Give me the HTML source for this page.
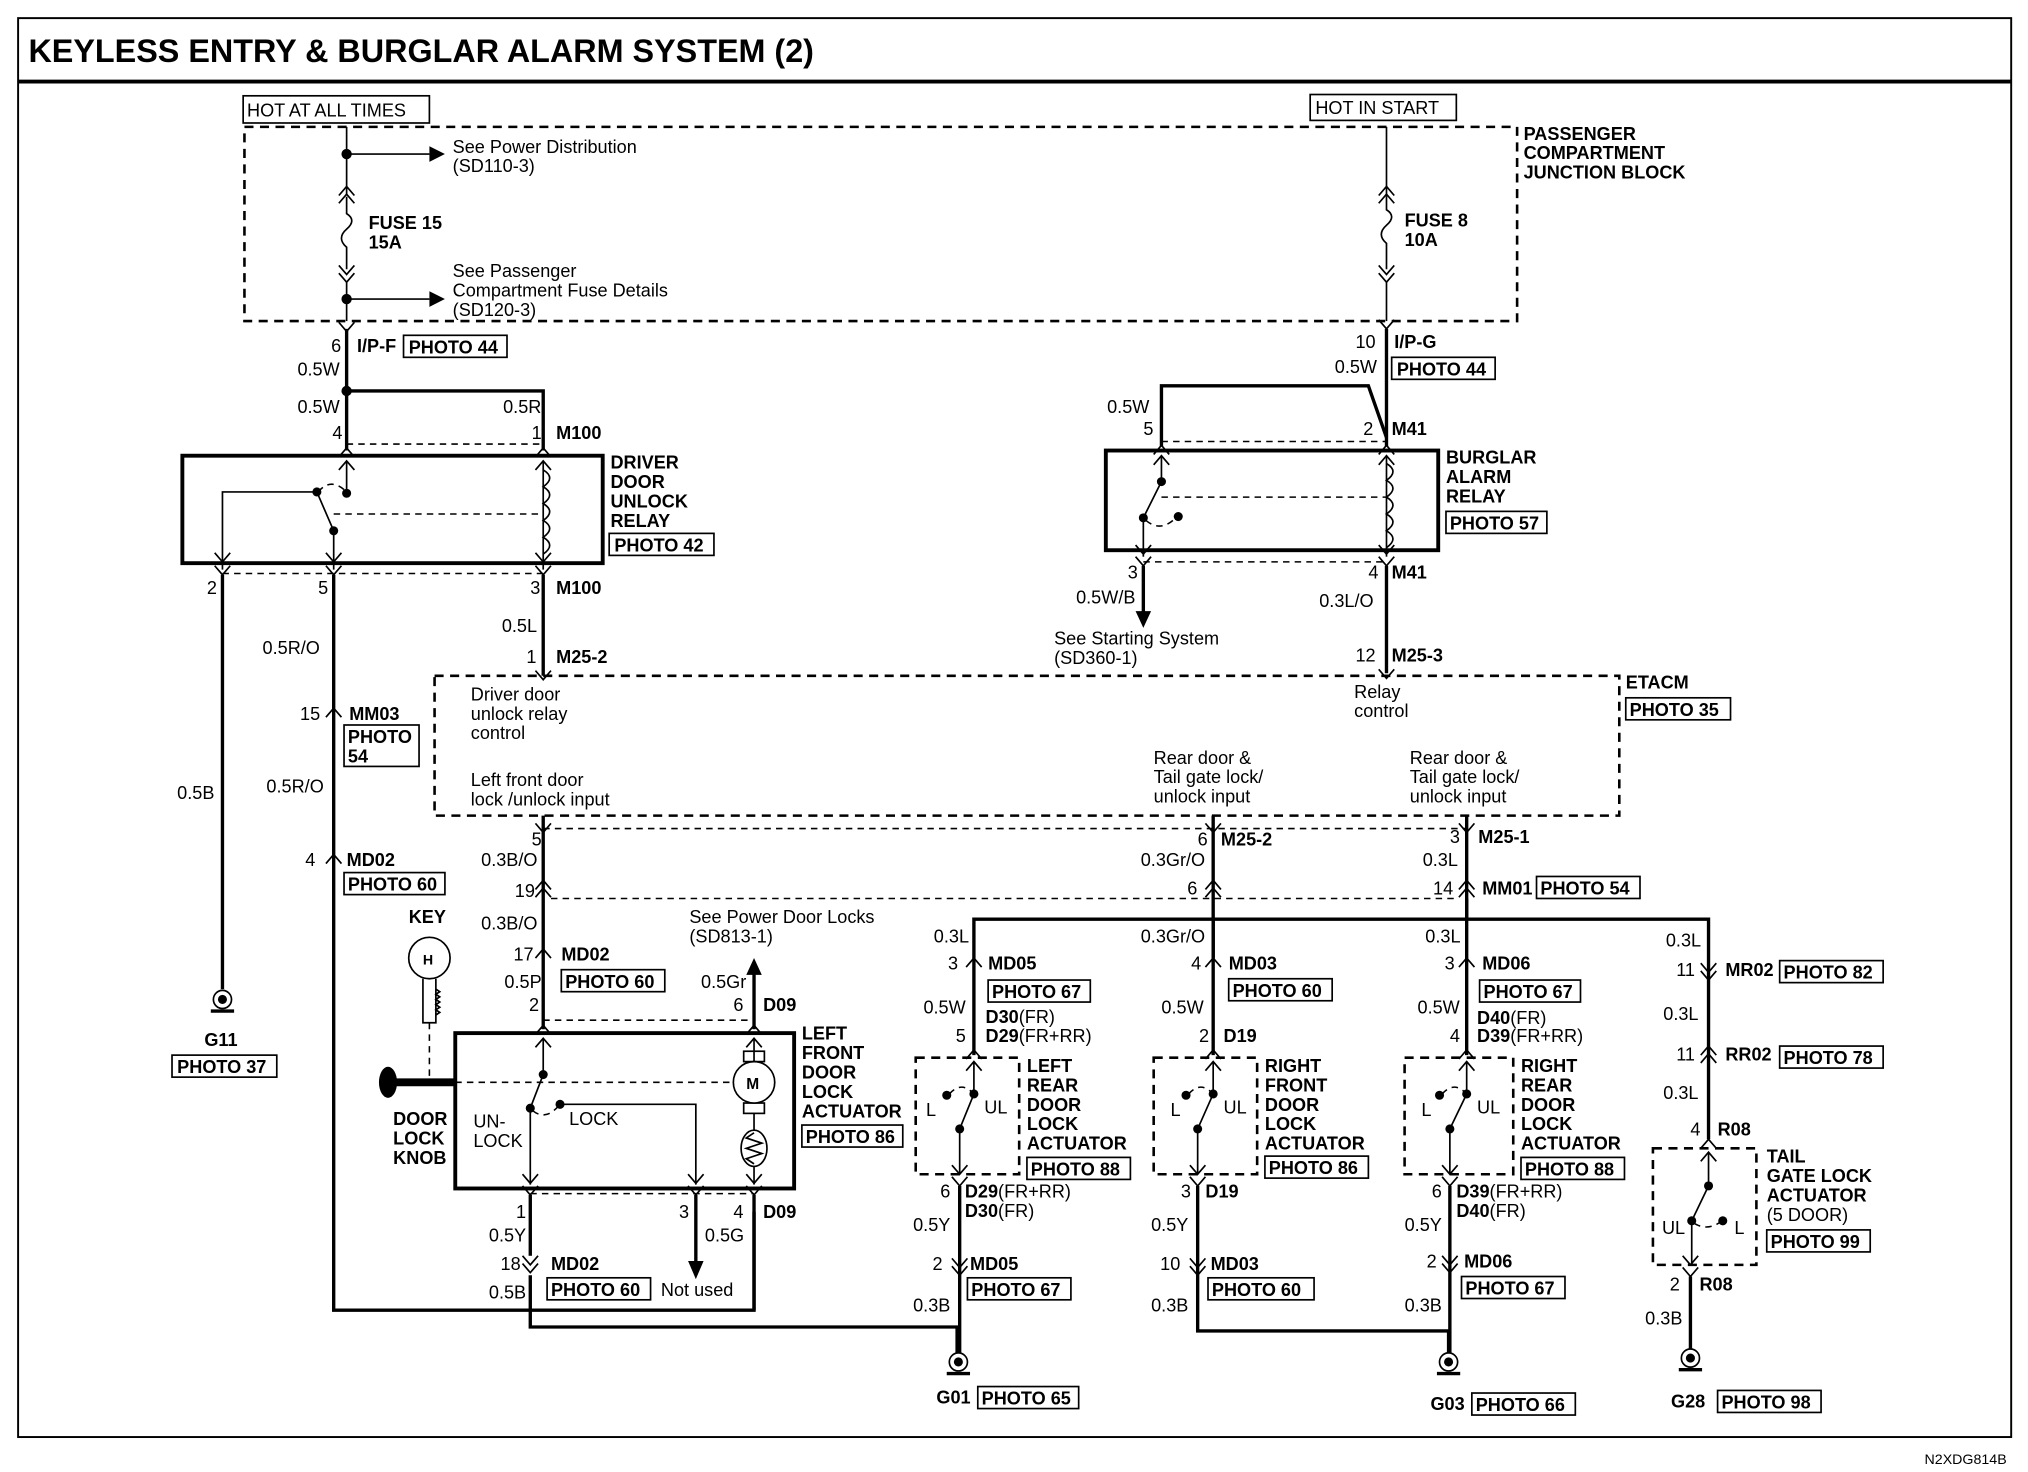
<!DOCTYPE html>
<html><head><meta charset="utf-8"><style>
html,body{margin:0;padding:0;background:#fff}
svg{display:block}
text{font-family:"Liberation Sans",Arial,sans-serif;font-size:14px;fill:#000}
.b{font-weight:bold}
.w{stroke:#000;stroke-width:2.6;fill:none}
.t{stroke:#000;stroke-width:1.3;fill:none}
.d{stroke:#000;stroke-width:2;fill:none;stroke-dasharray:7,5}
.dt{stroke:#000;stroke-width:1.2;fill:none;stroke-dasharray:5,4}
.bx{stroke:#000;stroke-width:1.3;fill:#fff}
.rb{stroke:#000;stroke-width:3;fill:none}
</style></head><body>
<svg width="2028" height="1472" viewBox="0 0 1568 1137" preserveAspectRatio="none" xmlns="http://www.w3.org/2000/svg">
<defs>
<g id="cu"><polyline points="-6,7 0,0 6,7" class="t"/></g>
<g id="cd"><polyline points="-6,-7 0,0 6,-7" class="t"/></g>
<g id="cu2"><polyline points="-6,7 0,0 6,7" class="t"/><polyline points="-6,13 0,6 6,13" class="t"/></g>
<g id="cd2"><polyline points="-6,-7 0,0 6,-7" class="t"/><polyline points="-6,-13 0,-6 6,-13" class="t"/></g>
<g id="gnd"><circle cx="0" cy="0" r="7" class="t" stroke-width="2"/><circle cx="0" cy="0" r="3.5" fill="#000"/><line x1="-9" y1="9" x2="9" y2="9" class="w"/></g>
</defs>
<rect x="14" y="14" width="1541" height="1096" fill="none" stroke="#000" stroke-width="1.5"/>
<line x1="14" y1="63" x2="1555" y2="63" stroke="#000" stroke-width="3"/>
<text x="22" y="48" class="b" style="font-size:25px">KEYLESS ENTRY &amp; BURGLAR ALARM SYSTEM (2)</text>
<text x="1488" y="1131" style="font-size:11px">N2XDG814B</text>

<!-- top junction block -->
<rect x="188" y="74" width="144" height="21" class="bx"/><text x="191" y="90">HOT AT ALL TIMES</text>
<rect x="1013" y="73" width="113" height="20" class="bx"/><text x="1017" y="88">HOT IN START</text>
<rect x="189" y="98" width="984" height="150" class="d"/>
<text x="1178" y="108" class="b">PASSENGER</text><text x="1178" y="123" class="b">COMPARTMENT</text><text x="1178" y="138" class="b">JUNCTION BLOCK</text>

<line x1="268" y1="98" x2="268" y2="150" class="t"/>
<circle cx="268" cy="119" r="4"/><line x1="268" y1="119" x2="332" y2="119" class="t"/><polygon points="332,113 344,119 332,125"/>
<text x="350" y="118">See Power Distribution</text><text x="350" y="133">(SD110-3)</text>
<use href="#cu2" x="268" y="144"/>
<path d="M268,152 V165 q8,5 0,12 q-8,7 0,14 V208" class="t"/>
<text x="285" y="177" class="b">FUSE 15</text><text x="285" y="192" class="b">15A</text>
<use href="#cd2" x="268" y="218"/>
<circle cx="268" cy="231" r="4"/><line x1="268" y1="231" x2="332" y2="231" class="t"/><polygon points="332,225 344,231 332,237"/>
<line x1="268" y1="218" x2="268" y2="248" class="t"/>
<text x="350" y="214">See Passenger</text><text x="350" y="229">Compartment Fuse Details</text><text x="350" y="244">(SD120-3)</text>
<use href="#cd" x="268" y="256"/>
<text x="256" y="272">6</text><text x="276" y="272" class="b">I/P-F</text>
<rect x="312" y="259" width="80" height="17" class="bx"/><text x="316" y="273" class="b">PHOTO 44</text>

<line x1="1072" y1="98" x2="1072" y2="152" class="t"/>
<use href="#cu2" x="1072" y="144"/>
<path d="M1072,152 V162 q8,5 0,12 q-8,7 0,14 V208" class="t"/>
<text x="1086" y="175" class="b">FUSE 8</text><text x="1086" y="190" class="b">10A</text>
<use href="#cd2" x="1072" y="218"/>
<line x1="1072" y1="218" x2="1072" y2="248" class="t"/>
<use href="#cd" x="1072" y="254"/>
<text x="1048" y="269">10</text><text x="1078" y="269" class="b">I/P-G</text>
<text x="1032" y="288">0.5W</text>
<rect x="1076" y="276" width="80" height="17" class="bx"/><text x="1080" y="290" class="b">PHOTO 44</text>

<!-- driver door unlock relay -->
<line x1="268" y1="254" x2="268" y2="348" class="w"/>
<circle cx="268" cy="302" r="4"/>
<polyline points="268,302 420,302 420,348" class="w"/>
<text x="230" y="290">0.5W</text><text x="230" y="319">0.5W</text><text x="389" y="319">0.5R</text>
<text x="257" y="339">4</text><text x="411" y="339">1</text><text x="430" y="339" class="b">M100</text>
<line x1="268" y1="343" x2="420" y2="343" class="dt"/>
<use href="#cu" x="268" y="346"/><use href="#cu" x="420" y="346"/>
<rect x="141" y="352" width="325" height="83" class="rb"/>
<use href="#cu" x="268" y="356"/><use href="#cu" x="420" y="356"/>
<line x1="268" y1="356" x2="268" y2="381" class="t"/><circle cx="268" cy="381" r="3.5"/>
<path d="M246,380 q10,-12 22,0" class="dt" stroke-dasharray="2,2"/>
<circle cx="245" cy="380" r="3.5"/>
<polyline points="172,440 172,380 245,380 258,410" class="t"/>
<circle cx="258" cy="410" r="3.5"/><line x1="258" y1="410" x2="258" y2="440" class="t"/>
<line x1="258" y1="397" x2="420" y2="397" class="dt"/>
<line x1="420" y1="356" x2="420" y2="440" class="t"/>
<path d="M420,363 q10,6 0,13 q10,6 0,13 q10,6 0,13 q10,6 0,13 q10,6 0,13" class="t"/>
<use href="#cd" x="172" y="434"/><use href="#cd" x="258" y="434"/><use href="#cd" x="420" y="434"/>
<use href="#cd" x="172" y="444"/><use href="#cd" x="258" y="444"/><use href="#cd" x="420" y="444"/>
<line x1="172" y1="443" x2="420" y2="443" class="dt"/>
<text x="472" y="362" class="b">DRIVER</text><text x="472" y="377" class="b">DOOR</text><text x="472" y="392" class="b">UNLOCK</text><text x="472" y="407" class="b">RELAY</text>
<rect x="471" y="412" width="81" height="17" class="bx"/><text x="475" y="426" class="b">PHOTO 42</text>
<text x="160" y="459">2</text><text x="246" y="459">5</text><text x="410" y="459">3</text><text x="430" y="459" class="b">M100</text>

<line x1="172" y1="444" x2="172" y2="764" class="w"/>
<use href="#gnd" x="172" y="772"/>
<text x="158" y="808" class="b">G11</text>
<rect x="133" y="815" width="81" height="17" class="bx"/><text x="137" y="829" class="b">PHOTO 37</text>
<text x="137" y="617">0.5B</text>

<polyline points="258,444 258,1012 583,1012 583,936" class="w"/>
<use href="#cu" x="258" y="547"/><use href="#cu" x="258" y="660"/>
<text x="203" y="505">0.5R/O</text>
<text x="232" y="556">15</text><text x="270" y="556" class="b">MM03</text>
<rect x="266" y="560" width="58" height="32" class="bx"/><text x="269" y="574" class="b">PHOTO</text><text x="269" y="589" class="b">54</text>
<text x="206" y="612">0.5R/O</text>
<text x="236" y="669">4</text><text x="268" y="669" class="b">MD02</text>
<rect x="266" y="674" width="78" height="17" class="bx"/><text x="269" y="688" class="b">PHOTO 60</text>

<line x1="420" y1="444" x2="420" y2="522" class="w"/>
<use href="#cd" x="420" y="525"/>
<text x="388" y="488">0.5L</text><text x="407" y="512">1</text><text x="430" y="512" class="b">M25-2</text>

<!-- burglar alarm relay -->
<polyline points="898,345 898,298 1058,298 1072,338" class="w"/>
<line x1="1072" y1="254" x2="1072" y2="345" class="w"/>
<text x="856" y="319">0.5W</text><text x="884" y="336">5</text><text x="1054" y="336">2</text><text x="1076" y="336" class="b">M41</text>
<line x1="898" y1="341" x2="1072" y2="341" class="dt"/>
<use href="#cu" x="898" y="344"/><use href="#cu" x="1072" y="344"/>
<rect x="855" y="348" width="257" height="77" class="rb"/>
<use href="#cu" x="898" y="352"/><use href="#cu" x="1072" y="352"/>
<line x1="898" y1="352" x2="898" y2="372" class="t"/><circle cx="898" cy="372" r="3.5"/>
<line x1="898" y1="372" x2="884" y2="400" class="t"/><circle cx="884" cy="400" r="3.5"/>
<path d="M886,402 q12,10 24,-3" class="dt" stroke-dasharray="2,2"/><circle cx="911" cy="399" r="3.5"/>
<line x1="884" y1="400" x2="884" y2="430" class="t"/>
<line x1="898" y1="384" x2="1072" y2="384" class="dt"/>
<line x1="1072" y1="352" x2="1072" y2="430" class="t"/>
<path d="M1072,358 q10,6 0,13 q10,6 0,13 q10,6 0,13 q10,6 0,13 q10,6 0,13" class="t"/>
<use href="#cd" x="884" y="428"/><use href="#cd" x="1072" y="428"/>
<use href="#cd" x="884" y="437"/><use href="#cd" x="1072" y="437"/>
<line x1="884" y1="434" x2="1072" y2="434" class="dt"/>
<text x="1118" y="358" class="b">BURGLAR</text><text x="1118" y="373" class="b">ALARM</text><text x="1118" y="388" class="b">RELAY</text>
<rect x="1118" y="395" width="78" height="17" class="bx"/><text x="1121" y="409" class="b">PHOTO 57</text>
<text x="872" y="447">3</text><text x="1058" y="447">4</text><text x="1076" y="447" class="b">M41</text>
<line x1="884" y1="437" x2="884" y2="474" class="w"/><polygon points="878,472 884,485 890,472"/>
<text x="832" y="466">0.5W/B</text>
<text x="815" y="498">See Starting System</text><text x="815" y="513">(SD360-1)</text>
<line x1="1072" y1="437" x2="1072" y2="520" class="w"/><use href="#cd" x="1072" y="524"/>
<text x="1020" y="469">0.3L/O</text><text x="1048" y="511">12</text><text x="1076" y="511" class="b">M25-3</text>

<!-- ETACM -->
<rect x="336" y="522" width="916" height="108" class="d"/>
<text x="1257" y="532" class="b">ETACM</text>
<rect x="1257" y="539" width="81" height="17" class="bx"/><text x="1260" y="553" class="b">PHOTO 35</text>
<text x="364" y="541">Driver door</text><text x="364" y="556">unlock relay</text><text x="364" y="571">control</text>
<text x="364" y="607">Left front door</text><text x="364" y="622">lock /unlock input</text>
<text x="892" y="590">Rear door &amp;</text><text x="892" y="605">Tail gate lock/</text><text x="892" y="620">unlock input</text>
<text x="1090" y="590">Rear door &amp;</text><text x="1090" y="605">Tail gate lock/</text><text x="1090" y="620">unlock input</text>
<text x="1047" y="539">Relay</text><text x="1047" y="554">control</text>

<!-- pins below ETACM -->
<line x1="420" y1="630" x2="420" y2="795" class="w"/>
<line x1="938" y1="630" x2="938" y2="815" class="w"/>
<polyline points="1134,630 1134,710" class="w"/>
<use href="#cd" x="420" y="643"/><use href="#cd" x="938" y="643"/><use href="#cd" x="1134" y="643"/>
<line x1="420" y1="640" x2="1134" y2="640" class="dt"/>
<text x="411" y="653">5</text><text x="926" y="653">6</text><text x="944" y="653" class="b">M25-2</text>
<text x="1121" y="651">3</text><text x="1143" y="651" class="b">M25-1</text>
<text x="372" y="669">0.3B/O</text><text x="882" y="669">0.3Gr/O</text><text x="1100" y="669">0.3L</text>
<use href="#cu2" x="420" y="680"/><use href="#cu2" x="938" y="680"/><use href="#cu2" x="1134" y="680"/>
<line x1="426" y1="694" x2="1128" y2="694" class="dt"/>
<text x="398" y="693">19</text><text x="918" y="691">6</text><text x="1108" y="691">14</text>
<text x="1146" y="691" class="b">MM01</text>
<rect x="1188" y="677" width="80" height="17" class="bx"/><text x="1191" y="691" class="b">PHOTO 54</text>

<!-- left front door actuator -->
<use href="#cu" x="420" y="733"/>
<text x="372" y="718">0.3B/O</text><text x="397" y="742">17</text><text x="434" y="742" class="b">MD02</text>
<rect x="434" y="749" width="80" height="17" class="bx"/><text x="437" y="763" class="b">PHOTO 60</text>
<text x="390" y="763">0.5P</text><text x="409" y="781">2</text>
<text x="533" y="713">See Power Door Locks</text><text x="533" y="728">(SD813-1)</text>
<line x1="583" y1="752" x2="583" y2="795" class="w"/><polygon points="577,753 583,740 589,753"/>
<text x="542" y="763">0.5Gr</text><text x="567" y="781">6</text><text x="590" y="781" class="b">D09</text>
<line x1="420" y1="788" x2="583" y2="788" class="dt"/>
<use href="#cu" x="420" y="792"/><use href="#cu" x="583" y="792"/>
<rect x="352" y="798" width="262" height="120" class="rb"/>
<use href="#cu" x="420" y="802"/><use href="#cu" x="583" y="802"/>
<line x1="420" y1="802" x2="420" y2="830" class="t"/><circle cx="420" cy="830" r="3.5"/>
<line x1="420" y1="830" x2="410" y2="856" class="t"/><circle cx="410" cy="856" r="3.5"/>
<path d="M412,858 q10,8 20,-4" class="dt" stroke-dasharray="2,2"/><circle cx="433" cy="853" r="3.5"/>
<polyline points="433,853 538,853 538,915" class="t"/>
<line x1="410" y1="856" x2="410" y2="915" class="t"/>
<line x1="352" y1="836" x2="567" y2="836" class="dt"/>
<line x1="583" y1="802" x2="583" y2="820" class="t"/>
<rect x="575" y="812" width="16" height="8" class="t"/><rect x="575" y="852" width="16" height="8" class="t"/>
<circle cx="583" cy="836" r="16" class="bx" stroke-width="1.5"/><text x="577" y="841" class="b" style="font-size:12px">M</text>
<line x1="583" y1="860" x2="583" y2="873" class="t"/>
<ellipse cx="583" cy="887" rx="10" ry="14" class="t"/>
<polyline points="583,875 577,879 589,883 577,887 589,891 577,895 583,899" class="t"/>
<line x1="583" y1="901" x2="583" y2="915" class="t"/>
<use href="#cd" x="410" y="914"/><use href="#cd" x="538" y="914"/><use href="#cd" x="583" y="914"/>
<use href="#cd" x="410" y="923"/><use href="#cd" x="538" y="923"/><use href="#cd" x="583" y="923"/>
<line x1="410" y1="922" x2="583" y2="922" class="dt"/>
<text x="620" y="803" class="b">LEFT</text><text x="620" y="818" class="b">FRONT</text><text x="620" y="833" class="b">DOOR</text><text x="620" y="848" class="b">LOCK</text><text x="620" y="863" class="b">ACTUATOR</text>
<rect x="620" y="869" width="78" height="17" class="bx"/><text x="623" y="883" class="b">PHOTO 86</text>
<text x="366" y="871">UN-</text><text x="366" y="886">LOCK</text><text x="440" y="869">LOCK</text>
<text x="304" y="869" class="b">DOOR</text><text x="304" y="884" class="b">LOCK</text><text x="304" y="899" class="b">KNOB</text>
<line x1="300" y1="836" x2="352" y2="836" stroke="#000" stroke-width="6"/>
<ellipse cx="300" cy="836" rx="7" ry="12"/>
<line x1="332" y1="790" x2="332" y2="836" class="dt"/>
<text x="316" y="713" class="b">KEY</text>
<circle cx="332" cy="740" r="16" class="t"/><text x="327" y="745" class="b" style="font-size:11px">H</text>
<path d="M327,756 V790 h10 V756 M337,764 l3,2 l-3,2 l3,2 l-3,2 l3,2 l-3,2 l3,2 l-3,2 l3,2 l-3,2" class="t"/>
<text x="399" y="941">1</text><text x="525" y="941">3</text><text x="567" y="941">4</text><text x="590" y="941" class="b">D09</text>
<line x1="410" y1="923" x2="410" y2="970" class="w"/>
<use href="#cd2" x="410" y="983"/>
<polyline points="410,985 410,1025 740,1025 740,1045" class="w"/>
<line x1="538" y1="923" x2="538" y2="975" class="w"/><polygon points="532,974 538,988 544,974"/>
<line x1="583" y1="923" x2="583" y2="1012" class="w"/>
<text x="378" y="959">0.5Y</text><text x="545" y="959">0.5G</text>
<text x="387" y="981">18</text><text x="426" y="981" class="b">MD02</text>
<text x="378" y="1003">0.5B</text>
<rect x="423" y="987" width="80" height="17" class="bx"/><text x="426" y="1001" class="b">PHOTO 60</text>
<text x="511" y="1001">Not used</text>

<!-- bus -->
<polyline points="753,815 753,710 1321,710 1321,880" class="w"/>
<line x1="1134" y1="694" x2="1134" y2="710" class="w"/>
<line x1="938" y1="710" x2="938" y2="740" class="w"/>
<line x1="1134" y1="710" x2="1134" y2="815" class="w"/>

<!-- left rear -->
<use href="#cu" x="753" y="740"/>
<text x="722" y="728">0.3L</text><text x="733" y="749">3</text><text x="764" y="749" class="b">MD05</text>
<rect x="764" y="757" width="79" height="17" class="bx"/><text x="767" y="771" class="b">PHOTO 67</text>
<text x="714" y="783">0.5W</text><text x="762" y="790"><tspan class="b">D30</tspan>(FR)</text>
<text x="739" y="805">5</text><text x="762" y="805"><tspan class="b">D29</tspan>(FR+RR)</text>
<use href="#cu" x="753" y="811"/>
<rect x="708" y="817" width="80" height="90" class="d"/>
<use href="#cu" x="753" y="820"/>
<line x1="753" y1="820" x2="753" y2="845" class="t"/><circle cx="753" cy="845" r="3.5"/>
<circle cx="732" cy="846" r="3.5"/><path d="M734,845 q9,-10 18,-1" class="dt" stroke-dasharray="2,2"/>
<line x1="753" y1="845" x2="742" y2="872" class="t"/><circle cx="742" cy="872" r="3.5"/>
<line x1="742" y1="872" x2="742" y2="907" class="t"/>
<text x="716" y="862">L</text><text x="761" y="860">UL</text>
<use href="#cd" x="742" y="907"/><use href="#cd" x="742" y="916"/>
<text x="794" y="828" class="b">LEFT</text><text x="794" y="843" class="b">REAR</text><text x="794" y="858" class="b">DOOR</text><text x="794" y="873" class="b">LOCK</text><text x="794" y="888" class="b">ACTUATOR</text>
<rect x="794" y="894" width="80" height="17" class="bx"/><text x="797" y="908" class="b">PHOTO 88</text>
<text x="727" y="925">6</text><text x="746" y="925"><tspan class="b">D29</tspan>(FR+RR)</text><text x="746" y="940"><tspan class="b">D30</tspan>(FR)</text>
<line x1="742" y1="916" x2="742" y2="1045" class="w"/>
<use href="#cd2" x="742" y="985"/>
<text x="706" y="951">0.5Y</text><text x="721" y="981">2</text><text x="750" y="981" class="b">MD05</text>
<rect x="748" y="987" width="80" height="17" class="bx"/><text x="751" y="1001" class="b">PHOTO 67</text>
<text x="706" y="1013">0.3B</text>
<use href="#gnd" x="741" y="1052"/>
<text x="724" y="1084" class="b">G01</text>
<rect x="756" y="1071" width="78" height="17" class="bx"/><text x="759" y="1085" class="b">PHOTO 65</text>

<!-- right front -->
<use href="#cu" x="938" y="740"/>
<text x="882" y="728">0.3Gr/O</text><text x="921" y="749">4</text><text x="950" y="749" class="b">MD03</text>
<rect x="950" y="756" width="80" height="17" class="bx"/><text x="953" y="770" class="b">PHOTO 60</text>
<text x="898" y="783">0.5W</text><text x="927" y="805">2</text><text x="946" y="805" class="b">D19</text>
<use href="#cu" x="938" y="811"/>
<rect x="892" y="817" width="80" height="90" class="d"/>
<use href="#cu" x="938" y="820"/>
<line x1="938" y1="820" x2="938" y2="845" class="t"/><circle cx="938" cy="845" r="3.5"/>
<circle cx="917" cy="846" r="3.5"/><path d="M919,845 q9,-10 18,-1" class="dt" stroke-dasharray="2,2"/>
<line x1="938" y1="845" x2="926" y2="872" class="t"/><circle cx="926" cy="872" r="3.5"/>
<line x1="926" y1="872" x2="926" y2="907" class="t"/>
<text x="905" y="862">L</text><text x="946" y="860">UL</text>
<use href="#cd" x="926" y="907"/><use href="#cd" x="926" y="916"/>
<text x="978" y="828" class="b">RIGHT</text><text x="978" y="843" class="b">FRONT</text><text x="978" y="858" class="b">DOOR</text><text x="978" y="873" class="b">LOCK</text><text x="978" y="888" class="b">ACTUATOR</text>
<rect x="978" y="893" width="80" height="17" class="bx"/><text x="981" y="907" class="b">PHOTO 86</text>
<text x="913" y="925">3</text><text x="932" y="925" class="b">D19</text>
<polyline points="926,916 926,1028 1120,1028 1120,1045" class="w"/>
<use href="#cd2" x="926" y="985"/>
<text x="890" y="951">0.5Y</text><text x="897" y="981">10</text><text x="936" y="981" class="b">MD03</text>
<rect x="934" y="987" width="82" height="17" class="bx"/><text x="937" y="1001" class="b">PHOTO 60</text>
<text x="890" y="1013">0.3B</text>

<!-- right rear -->
<use href="#cu" x="1134" y="740"/>
<text x="1102" y="728">0.3L</text><text x="1117" y="749">3</text><text x="1146" y="749" class="b">MD06</text>
<rect x="1144" y="757" width="78" height="17" class="bx"/><text x="1147" y="771" class="b">PHOTO 67</text>
<text x="1096" y="783">0.5W</text><text x="1142" y="791"><tspan class="b">D40</tspan>(FR)</text>
<text x="1121" y="805">4</text><text x="1142" y="805"><tspan class="b">D39</tspan>(FR+RR)</text>
<use href="#cu" x="1134" y="811"/>
<rect x="1086" y="817" width="84" height="90" class="d"/>
<use href="#cu" x="1134" y="820"/>
<line x1="1134" y1="820" x2="1134" y2="845" class="t"/><circle cx="1134" cy="845" r="3.5"/>
<circle cx="1113" cy="846" r="3.5"/><path d="M1115,845 q9,-10 18,-1" class="dt" stroke-dasharray="2,2"/>
<line x1="1134" y1="845" x2="1121" y2="872" class="t"/><circle cx="1121" cy="872" r="3.5"/>
<line x1="1121" y1="872" x2="1121" y2="907" class="t"/>
<text x="1099" y="862">L</text><text x="1142" y="860">UL</text>
<use href="#cd" x="1121" y="907"/><use href="#cd" x="1121" y="916"/>
<text x="1176" y="828" class="b">RIGHT</text><text x="1176" y="843" class="b">REAR</text><text x="1176" y="858" class="b">DOOR</text><text x="1176" y="873" class="b">LOCK</text><text x="1176" y="888" class="b">ACTUATOR</text>
<rect x="1176" y="894" width="80" height="17" class="bx"/><text x="1179" y="908" class="b">PHOTO 88</text>
<text x="1107" y="925">6</text><text x="1126" y="925"><tspan class="b">D39</tspan>(FR+RR)</text><text x="1126" y="940"><tspan class="b">D40</tspan>(FR)</text>
<line x1="1121" y1="916" x2="1121" y2="1045" class="w"/>
<use href="#cd2" x="1121" y="983"/>
<text x="1086" y="951">0.5Y</text><text x="1103" y="979">2</text><text x="1132" y="979" class="b">MD06</text>
<rect x="1130" y="986" width="80" height="17" class="bx"/><text x="1133" y="1000" class="b">PHOTO 67</text>
<text x="1086" y="1013">0.3B</text>
<use href="#gnd" x="1120" y="1052"/>
<text x="1106" y="1089" class="b">G03</text>
<rect x="1138" y="1076" width="80" height="17" class="bx"/><text x="1141" y="1090" class="b">PHOTO 66</text>

<!-- tail gate -->
<text x="1288" y="731">0.3L</text>
<use href="#cd2" x="1321" y="757"/>
<text x="1296" y="754">11</text><text x="1334" y="754" class="b">MR02</text>
<rect x="1376" y="742" width="80" height="17" class="bx"/><text x="1379" y="756" class="b">PHOTO 82</text>
<text x="1286" y="788">0.3L</text>
<use href="#cu2" x="1321" y="808"/>
<text x="1296" y="819">11</text><text x="1334" y="819" class="b">RR02</text>
<rect x="1376" y="808" width="80" height="17" class="bx"/><text x="1379" y="822" class="b">PHOTO 78</text>
<text x="1286" y="849">0.3L</text>
<text x="1307" y="877">4</text><text x="1328" y="877" class="b">R08</text>
<use href="#cu" x="1321" y="880"/>
<rect x="1278" y="887" width="80" height="90" class="d"/>
<use href="#cu" x="1321" y="890"/>
<line x1="1321" y1="890" x2="1321" y2="916" class="t"/><circle cx="1321" cy="916" r="3.5"/>
<line x1="1321" y1="916" x2="1308" y2="943" class="t"/>
<circle cx="1308" cy="943" r="3.5"/><circle cx="1332" cy="943" r="3.5"/>
<path d="M1310,945 q10,6 20,-1" class="dt" stroke-dasharray="2,2"/>
<line x1="1308" y1="943" x2="1308" y2="977" class="t"/>
<text x="1285" y="953">UL</text><text x="1341" y="953">L</text>
<use href="#cd" x="1307" y="977"/><use href="#cd" x="1307" y="986"/>
<text x="1366" y="898" class="b">TAIL</text><text x="1366" y="913" class="b">GATE LOCK</text><text x="1366" y="928" class="b">ACTUATOR</text><text x="1366" y="943">(5 DOOR)</text>
<rect x="1366" y="950" width="80" height="17" class="bx"/><text x="1369" y="964" class="b">PHOTO 99</text>
<text x="1291" y="997">2</text><text x="1314" y="997" class="b">R08</text>
<line x1="1307" y1="986" x2="1307" y2="1042" class="w"/>
<text x="1272" y="1023">0.3B</text>
<use href="#gnd" x="1307" y="1049"/>
<text x="1292" y="1087" class="b">G28</text>
<rect x="1328" y="1074" width="80" height="17" class="bx"/><text x="1331" y="1088" class="b">PHOTO 98</text>
</svg>
</body></html>
